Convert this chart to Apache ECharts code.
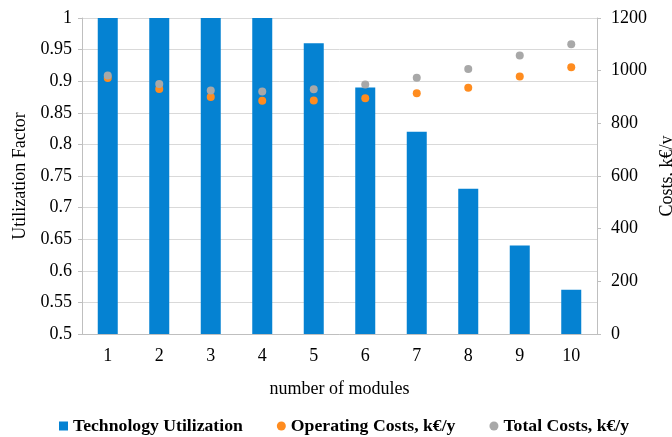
<!DOCTYPE html>
<html>
<head>
<meta charset="utf-8">
<script src="https://cdn.jsdelivr.net/npm/echarts@6/dist/echarts.min.js"></script>
<style>
  html, body { margin: 0; padding: 0; background: #fff; }
  #main { width: 672px; height: 437px; }
</style>
</head>
<body>
<div id="main"></div>
<script>
// data
var modules = ['1', '2', '3', '4', '5', '6', '7', '8', '9', '10'];
var utilization = [1, 1, 1, 1, 0.96, 0.89, 0.82, 0.73, 0.64, 0.57];
var operatingCosts = [972, 930, 900, 886, 887, 895, 914, 935, 978, 1013];
var totalCosts = [982, 949, 925, 921, 929, 947, 973, 1006, 1058, 1100];

var font = 'Liberation Serif';
var axisGrey = '#bfbfbf';

var myChart = echarts.init(document.getElementById('main'));

option = {
    animation: false,
    textStyle: { fontFamily: font },
    grid: { left: 82, right: 75, top: 18, bottom: 103, outerBoundsMode: 'none' },
    legend: {
        top: 412,
        left: 54,
        itemGap: 34,
        itemWidth: 9,
        itemHeight: 9,
        textStyle: { fontFamily: font, fontSize: 17.7, fontWeight: 'bold', color: '#000' },
        data: [
            { name: 'Technology Utilization', icon: 'rect' },
            { name: 'Operating Costs, k€/y', icon: 'circle' },
            { name: 'Total Costs, k€/y', icon: 'circle' }
        ]
    },
    xAxis: {
        type: 'category',
        data: modules,
        name: 'number of modules',
        nameLocation: 'middle',
        nameGap: 46,
        nameTextStyle: { fontFamily: font, fontSize: 18, color: '#000' },
        axisLine: { lineStyle: { color: axisGrey } },
        axisTick: { show: false },
        axisLabel: { fontFamily: font, fontSize: 18, color: '#000', margin: 13 }
    },
    yAxis: [{
        type: 'value',
        min: 0.5,
        max: 1,
        interval: 0.05,
        name: 'Utilization Factor',
        nameLocation: 'middle',
        nameGap: 50,
        nameTextStyle: { fontFamily: font, fontSize: 18, color: '#000' },
        axisLine: { show: true, lineStyle: { color: axisGrey } },
        axisTick: { show: true, length: 4, lineStyle: { color: axisGrey } },
        axisLabel: { fontFamily: font, fontSize: 18, color: '#000', margin: 10 },
        splitLine: { lineStyle: { color: '#d9d9d9' } }
    }, {
        type: 'value',
        min: 0,
        max: 1200,
        interval: 200,
        name: 'Costs, k€/y',
        nameLocation: 'middle',
        nameGap: 60,
        nameRotate: 90,
        nameTextStyle: { fontFamily: font, fontSize: 18, color: '#000' },
        axisLine: { show: true, lineStyle: { color: axisGrey } },
        axisTick: { show: true, length: 4, lineStyle: { color: axisGrey } },
        axisLabel: {
            fontFamily: font, fontSize: 18, color: '#000', margin: 14,
            formatter: function (v) { return String(v); }
        },
        splitLine: { show: false }
    }],
    series: [{
        name: 'Technology Utilization',
        type: 'bar',
        data: utilization,
        barWidth: 20,
        itemStyle: { color: '#0582d2' }
    }, {
        name: 'Operating Costs, k€/y',
        type: 'scatter',
        yAxisIndex: 1,
        data: operatingCosts,
        symbolSize: 8,
        itemStyle: { color: '#ff8c1f', opacity: 1 }
    }, {
        name: 'Total Costs, k€/y',
        type: 'scatter',
        yAxisIndex: 1,
        data: totalCosts,
        symbolSize: 8,
        itemStyle: { color: '#a8a8a8', opacity: 1 }
    }]
};

myChart.setOption(option);
</script>
</body>
</html>
